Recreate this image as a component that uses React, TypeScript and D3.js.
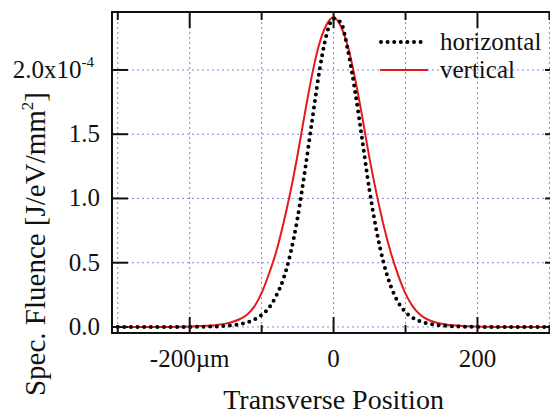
import React from "react";
import * as d3 from "d3";

// transverse position in µm, fluence in units of 1e-4 J/eV/mm^2
const positions = [
  -300, -290, -280, -270, -260, -250, -240, -230, -220, -210, -200,
  -190, -180, -170, -160, -150, -140, -130, -120, -110, -100,
  -90, -80, -70, -60, -50, -40, -30, -20, -10, 0,
  10, 20, 30, 40, 50, 60, 70, 80, 90, 100,
  110, 120, 130, 140, 150, 160, 170, 180, 190, 200,
  210, 220, 230, 240, 250, 260, 270, 280, 290, 300,
];

const horizontal = [
  0, 0, 0, 0, 0, 0, 0, 0, 0, 0, 0,
  0.001, 0.002, 0.003, 0.005, 0.009, 0.014, 0.022, 0.036, 0.058, 0.093,
  0.148, 0.24, 0.37, 0.57, 0.85, 1.21, 1.6, 1.98, 2.27, 2.40,
  2.37, 2.15, 1.83, 1.45, 1.06, 0.74, 0.49, 0.31, 0.19, 0.115,
  0.072, 0.044, 0.028, 0.018, 0.011, 0.007, 0.004, 0.002, 0.001, 0,
  0, 0, 0, 0, 0, 0, 0, 0, 0, 0,
];

const vertical = [
  0, 0, 0, 0, 0, 0, 0, 0, 0.001, 0.002, 0.003,
  0.005, 0.008, 0.011, 0.017, 0.026, 0.04, 0.062, 0.097, 0.16, 0.265,
  0.41, 0.58, 0.8, 1.05, 1.34, 1.66, 1.96, 2.2, 2.35, 2.41,
  2.34, 2.18, 1.93, 1.63, 1.31, 1.03, 0.78, 0.57, 0.4, 0.26,
  0.16, 0.097, 0.06, 0.039, 0.025, 0.016, 0.011, 0.007, 0.005, 0.003,
  0.002, 0.001, 0, 0, 0, 0, 0, 0, 0, 0,
];

const xMajorTicks = [-200, 0, 200];
const xTickLabels = ["-200\u00b5m", "0", "200"];
const xMinorTicks = [-300, -100, 100, 300];
const xGrid = [-300, -200, -100, 0, 100, 200, 300];
const yTicks = [0, 0.5, 1.0, 1.5, 2.0];
const yTickLabels = ["0.0", "0.5", "1.0", "1.5", "2.0x10"];

const seriesNames = ["horizontal", "vertical"];

const W = 550;
const H = 416;
const FONT = '"Liberation Serif", "Times New Roman", Tinos, "DejaVu Serif", serif';
const RED = "#e5191d";
const GRID = "#8585e6";

export default function App() {
  const left = 112, right = 553, top = 12, bottom = 333;

  const x = d3.scaleLinear().domain([-308, 305]).range([left, right]);
  const y = d3.scaleLinear().domain([-0.047, 2.451]).range([bottom, top]);

  const line = d3
    .line<number>()
    .x((_, i) => x(positions[i]))
    .y((d) => y(d))
    .curve(d3.curveMonotoneX);

  const major = 16;
  const minor = 8;

  return (
    <svg
      width={W}
      height={H}
      style={{ position: "absolute", left: 0, top: 0, background: "#fff", fontFamily: FONT }}
    >
      <rect width={W} height={H} fill="#fff" />

      {/* grid */}
      {xGrid.map((v) => (
        <line key={"gx" + v} x1={x(v)} x2={x(v)} y1={top} y2={bottom}
          stroke={GRID} strokeWidth={1} strokeDasharray="2 3" />
      ))}
      {yTicks.map((v) => (
        <line key={"gy" + v} x1={left} x2={right} y1={y(v)} y2={y(v)}
          stroke={GRID} strokeWidth={1} strokeDasharray="2 3" />
      ))}

      {/* curves */}
      <path d={line(vertical) || ""} fill="none" stroke={RED} strokeWidth={2} />
      <path d={line(horizontal) || ""} fill="none" stroke="#000" strokeWidth={4}
        strokeLinecap="round" strokeDasharray="0 6.6" />

      {/* frame */}
      <rect x={left} y={top} width={right - left} height={bottom - top}
        fill="none" stroke="#111" strokeWidth={2} />

      {/* x ticks */}
      {xMajorTicks.map((v) => (
        <g key={"xt" + v} stroke="#111" strokeWidth={2}>
          <line x1={x(v)} x2={x(v)} y1={bottom} y2={bottom - major} />
          <line x1={x(v)} x2={x(v)} y1={top} y2={top + major} />
        </g>
      ))}
      {xMinorTicks.map((v) => (
        <g key={"xm" + v} stroke="#111" strokeWidth={2}>
          <line x1={x(v)} x2={x(v)} y1={bottom} y2={bottom - minor} />
          <line x1={x(v)} x2={x(v)} y1={top} y2={top + minor} />
        </g>
      ))}
      {xMajorTicks.map((v, i) => (
        <text key={"xl" + v} x={x(v)} y={367} textAnchor="middle" fontSize={25} fill="#111">
          {xTickLabels[i]}
        </text>
      ))}

      {/* y ticks */}
      {yTicks.map((v) => (
        <g key={"yt" + v} stroke="#111" strokeWidth={2}>
          <line x1={left} x2={left + major} y1={y(v)} y2={y(v)} />
          <line x1={right} x2={right - minor} y1={y(v)} y2={y(v)} />
        </g>
      ))}
      {yTicks.map((v, i) =>
        i === yTicks.length - 1 ? (
          <text key={"yl" + v} x={left - 18} y={y(v) + 8} textAnchor="end" fontSize={25} fill="#111">
            {yTickLabels[i]}
            <tspan fontSize={15} dy={-11}>-4</tspan>
          </text>
        ) : (
          <text key={"yl" + v} x={left - 12} y={y(v) + 8} textAnchor="end" fontSize={25} fill="#111">
            {yTickLabels[i]}
          </text>
        )
      )}

      {/* axis titles */}
      <text x={x(0)} y={409} textAnchor="middle" fontSize={28} fill="#111">
        Transverse Position
      </text>
      <text transform={`translate(45, ${244}) rotate(-90)`} textAnchor="middle" fontSize={29} fill="#111">
        Spec. Fluence [J/eV/mm<tspan fontSize={17} dy={-12}>2</tspan><tspan dy={12}>]</tspan>
      </text>

      {/* legend */}
      <g>
        <line x1={381} x2={425} y1={42} y2={42} stroke="#000" strokeWidth={4}
          strokeLinecap="round" strokeDasharray="0 6.6" />
        <text x={440} y={50} fontSize={25} fill="#111">{seriesNames[0]}</text>
        <line x1={380} x2={428} y1={70} y2={70} stroke={RED} strokeWidth={2} />
        <text x={440} y={78} fontSize={25} fill="#111">{seriesNames[1]}</text>
      </g>
    </svg>
  );
}
